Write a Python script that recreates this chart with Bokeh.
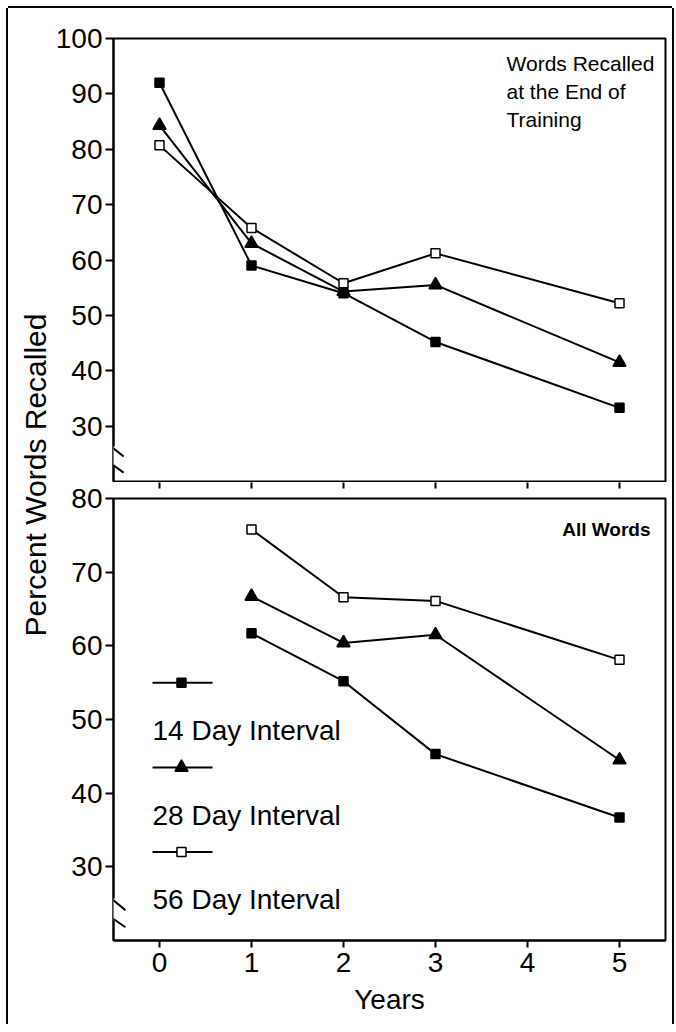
import math
from bokeh.plotting import figure
from bokeh.layouts import row, column
from bokeh.models import Range1d, FixedTicker, Arrow, LinearAxis
from bokeh.embed import file_html
from bokeh.resources import INLINE
from bokeh.core.properties import value

# ---------------- data ----------------
x_ticks = [0, 1, 2, 3, 4, 5]
top_y_ticks = [30, 40, 50, 60, 70, 80, 90, 100]
bottom_y_ticks = [30, 40, 50, 60, 70, 80]

years_top = [0, 1, 2, 3, 5]
top_14 = [92.0, 59.0, 54.0, 45.2, 33.3]
top_28 = [84.3, 63.0, 54.3, 55.5, 41.5]
top_56 = [80.7, 65.8, 55.8, 61.2, 52.2]

years_bottom = [1, 2, 3, 5]
bottom_14 = [61.7, 55.2, 45.3, 36.7]
bottom_28 = [66.7, 60.4, 61.5, 44.5]
bottom_56 = [75.8, 66.6, 66.1, 58.1]

series_labels = ["14 Day Interval", "28 Day Interval", "56 Day Interval"]
y_label = "Percent Words Recalled"
x_label = "Years"
top_note = "Words Recalled\nat the End of\nTraining"
bottom_note = "All Words"

FONT = "Liberation Sans"

# marker styles per series: (marker, size, fill)
MARKERS = [("square", 9, "black"), ("triangle", 13, "black"), ("square", 9, "white")]


def base_fig(height, y0, y1, mb_top, mb_bottom):
    p = figure(width=620, height=height,
               x_range=Range1d(-0.5, 5.5), y_range=Range1d(y0, y1),
               output_backend="svg", toolbar_location=None,
               min_border_left=61, min_border_right=7,
               min_border_top=mb_top, min_border_bottom=mb_bottom)
    p.xgrid.visible = False
    p.ygrid.visible = False
    p.outline_line_color = "black"
    p.outline_line_width = 2
    p.background_fill_color = "white"
    p.border_fill_color = "white"
    for ax in (p.xaxis[0], p.yaxis[0]):
        ax.axis_line_width = 2
        ax.axis_line_color = "black"
        ax.major_tick_line_width = 2
        ax.major_tick_line_color = "black"
        ax.major_tick_in = 0
        ax.minor_tick_line_color = None
        ax.major_label_text_font = FONT
        ax.major_label_text_font_size = "28px"
        ax.major_label_text_color = "black"
    p.xaxis[0].ticker = FixedTicker(ticks=x_ticks)
    p.xaxis[0].major_tick_out = 7
    p.yaxis[0].major_tick_out = 8
    p.yaxis[0].major_label_standoff = 3
    return p


def draw_series(p, xs, ys_list):
    for ys, (mk, sz, fill) in zip(ys_list, MARKERS):
        p.line(xs, ys, line_color="black", line_width=2)
        p.scatter(xs, ys, marker=mk, size=sz, fill_color=fill,
                  line_color="black", line_width=1.5)


def axis_break(p, xa, xb, ya1, yb1, ya2, yb2, gap0, gap1):
    # white gap in the axis line, then two slanted break strokes
    p.add_layout(Arrow(x_start=-0.5, y_start=gap0, x_end=-0.5, y_end=gap1,
                       end=None, line_color="white", line_width=5))
    p.add_layout(Arrow(x_start=xa, y_start=ya1, x_end=xb, y_end=yb1,
                       end=None, line_color="black", line_width=2))
    p.add_layout(Arrow(x_start=xa, y_start=ya2, x_end=xb, y_end=yb2,
                       end=None, line_color="black", line_width=2))


# ---------------- top panel ----------------
p1 = base_fig(474, 20, 100, 30, 1)
p1.yaxis[0].ticker = FixedTicker(ticks=top_y_ticks)
p1.xaxis[0].visible = False
draw_series(p1, years_top, [top_14, top_28, top_56])
p1.text(x=[3.772], y=[97.5], text=[top_note], text_font=value(FONT),
        text_font_size="21px", text_align="left", text_baseline="top",
        text_line_height=1.2, text_color="black")
axis_break(p1, -0.59, -0.39, 27.2, 24.5, 24.0, 21.6, 26.3, 22.9)

# ---------------- bottom panel ----------------
p2 = base_fig(542, 20, 80, 16, 84)
p2.yaxis[0].ticker = FixedTicker(ticks=bottom_y_ticks)
p2.xaxis[0].major_label_standoff = 5
p2.xaxis[0].axis_label = x_label
p2.xaxis[0].axis_label_text_font = FONT
p2.xaxis[0].axis_label_text_font_size = "28px"
p2.xaxis[0].axis_label_text_font_style = "normal"
p2.xaxis[0].axis_label_text_color = "black"
p2.xaxis[0].axis_label_standoff = 9

# unlabeled year ticks hanging below the top panel (drawn from the panel gap)
gap_axis = LinearAxis(ticker=FixedTicker(ticks=[], minor_ticks=x_ticks),
                      axis_line_color=None, major_tick_line_color=None,
                      major_label_standoff=0,
                      minor_tick_line_color="black", minor_tick_line_width=2,
                      minor_tick_in=-10, minor_tick_out=16)
p2.add_layout(gap_axis, "above")

draw_series(p2, years_bottom, [bottom_14, bottom_28, bottom_56])
p2.text(x=[5.337], y=[77.2], text=[bottom_note], text_font=value(FONT),
        text_font_size="19px", text_font_style="bold", text_align="right",
        text_baseline="top", text_color="black")
axis_break(p2, -0.59, -0.37, 26.4, 24.1, 23.7, 21.8, 25.7, 22.7)

# legend (manual: sample line above each label)
leg_x0, leg_x1, leg_xm, leg_xt = -0.076, 0.576, 0.239, -0.076
leg_line_y = [55.0, 43.5, 32.0]
leg_text_y = [48.45, 36.95, 25.55]
for ly, ty, lab, (mk, sz, fill) in zip(leg_line_y, leg_text_y, series_labels, MARKERS):
    p2.line([leg_x0, leg_x1], [ly, ly], line_color="black", line_width=2)
    p2.scatter([leg_xm], [ly], marker=mk, size=sz, fill_color=fill,
               line_color="black", line_width=1.5)
    p2.text(x=[leg_xt], y=[ty], text=[lab], text_font=value(FONT),
            text_font_size="28px", text_align="left",
            text_baseline="alphabetic", text_color="black")

# ---------------- shared y label ----------------
p0 = figure(width=44, height=1016, x_range=Range1d(0, 44), y_range=Range1d(0, 1016),
            output_backend="svg", toolbar_location=None,
            x_axis_type=None, y_axis_type=None, min_border=0)
p0.xgrid.visible = False
p0.ygrid.visible = False
p0.outline_line_color = None
p0.border_fill_color = "white"
p0.background_fill_color = "white"
p0.text(x=[27], y=[549.5], text=[y_label], angle=math.pi / 2,
        text_font=value(FONT), text_font_size="30px", text_align="center",
        text_baseline="middle", text_color="black")

layout = row(p0, column(p1, p2),
             styles={"margin": "8px 0 0 8px",
                     "box-shadow": "-2px 0 0 0 black, 2px 0 0 0 black, 0 -2px 0 0 black"})

open("out.html", "w").write(file_html(layout, INLINE))
